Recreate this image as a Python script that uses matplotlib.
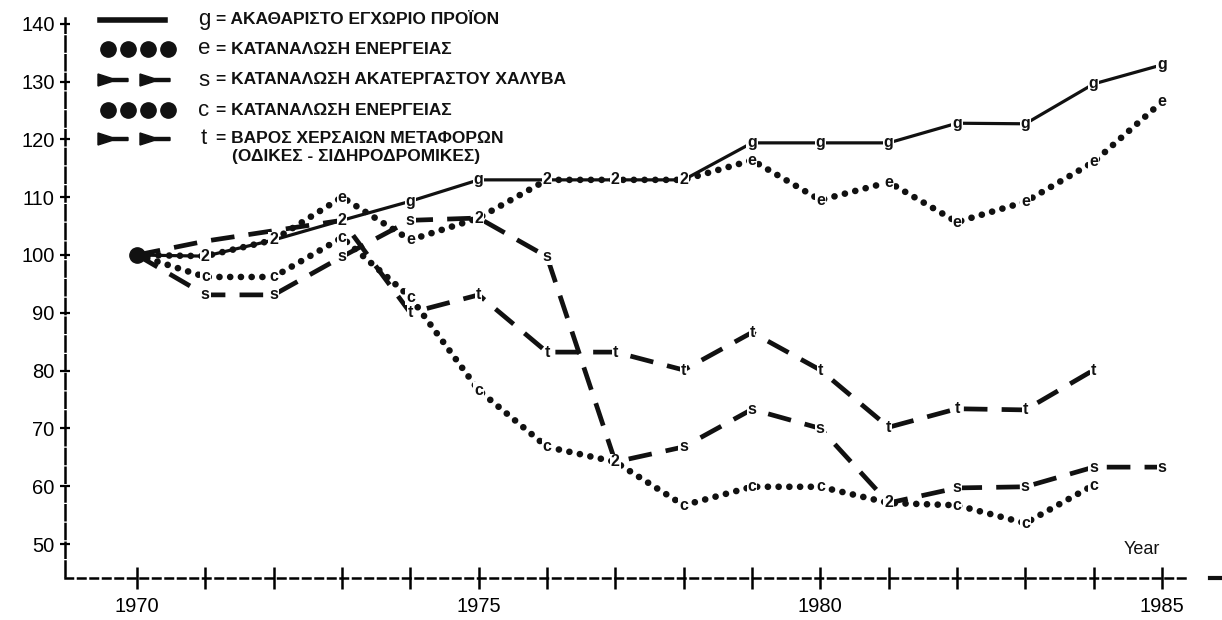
import numpy as np
import matplotlib.pyplot as plt
from matplotlib.patches import Polygon
from matplotlib.lines import Line2D

plt.rcParams['font.family'] = ['Liberation Sans', 'DejaVu Sans']

# Index values (1970 = 100)
years = np.arange(1970, 1986)
gdp = [100, 99.8, 102.6, 106, 109.3, 113, 113, 113, 113, 119.4, 119.4, 119.4, 122.8, 122.7, 129.6, 132.9]
energy_e = [100, 99.8, 102.6, 110, 102.6, 106.4, 113, 113, 113, 116.4, 109.5, 112.6, 105.7, 109.2, 116.1, 126.5]
steel = [100, 93.1, 93.1, 99.7, 106, 106.4, 99.7, 64.2, 66.8, 73.3, 70, 57.1, 59.7, 59.9, 63.3, 63.3]
energy_c = [100, 96.2, 96.2, 103, 92.7, 76.6, 66.8, 64.2, 56.7, 59.9, 59.9, 57.1, 56.7, 53.6, 60.2]
transport = [100, 102.4, 104.2, 106, 90, 93.1, 83.2, 83.2, 80.1, 86.6, 80.1, 70.2, 73.4, 73.2, 80.1]

letters = ['g', 'e', 's', 'c', 't']
series = [gdp, energy_e, steel, energy_c, transport]
# points the scan leaves without a letter
unlabelled = [('t', 1971), ('t', 1972)]
legend_text = ['= ΑΚΑΘΑΡΙΣΤΟ ΕΓΧΩΡΙΟ ΠΡΟΪΟΝ',
               '= ΚΑΤΑΝΑΛΩΣΗ ΕΝΕΡΓΕΙΑΣ',
               '= ΚΑΤΑΝΑΛΩΣΗ ΑΚΑΤΕΡΓΑΣΤΟΥ ΧΑΛΥΒΑ',
               '= ΚΑΤΑΝΑΛΩΣΗ ΕΝΕΡΓΕΙΑΣ',
               '= ΒΑΡΟΣ ΧΕΡΣΑΙΩΝ ΜΕΤΑΦΟΡΩΝ']
legend_text2 = '(ΟΔΙΚΕΣ - ΣΙΔΗΡΟΔΡΟΜΙΚΕΣ)'

W, H = 1222, 620
fig = plt.figure(figsize=(W / 100, H / 100), dpi=100)

# axes placed so that 1970 -> x=137px, 1985 -> x=1162px, 100 -> y=255px
x0, x1 = 65, 1222
y_top, y_bot = 10, 578
px_year = (1162 - 137) / 15
px_unit = 5.78
ax = fig.add_axes([x0 / W, (H - y_bot) / H, (x1 - x0) / W, (y_bot - y_top) / H])
ax.set_xlim(1970 - (137 - x0) / px_year, 1970 + (x1 - 137) / px_year)
ax.set_ylim(100 - (y_bot - 255) / px_unit, 100 + (255 - y_top) / px_unit)

ink = '#111111'
dot_style = dict(color=ink, lw=4.8, linestyle=(0, (0.01, 1.6)), dash_capstyle='round')
dash_style = dict(color=ink, lw=3.4, linestyle=(0, (5, 3)), dash_capstyle='butt')
styles = [dict(color=ink, lw=2.3, linestyle='-'), dot_style, dash_style, dot_style, dash_style]

for vals, st in zip(series, styles):
    ax.plot(years[:len(vals)], vals, zorder=2, **st)

# point labels: letter of the series, or "2" where two series meet
for i, yr in enumerate(years):
    if yr == 1970:
        continue
    pts = []
    for letter, vals in zip(letters, series):
        if i < len(vals) and (letter, yr) not in unlabelled:
            pts.append((letter, vals[i]))
    done = set()
    for j, (letter, v) in enumerate(pts):
        if j in done:
            continue
        same = [k for k, (l2, v2) in enumerate(pts) if k != j and abs(v2 - v) < 0.05]
        lab = '2' if same else letter
        done.update(same)
        ax.text(yr, v, lab, ha='center', va='center', fontsize=11.5, fontweight='bold',
                color=ink, zorder=4,
                bbox=dict(boxstyle='square,pad=0.05', fc='white', ec='none'))

ax.plot([1970], [100], 'o', color=ink, ms=11, zorder=5)

# axes in the style of the scan
for side in ['top', 'right']:
    ax.spines[side].set_visible(False)
ax.spines['left'].set_linestyle((0, (6, 1.5)))
ax.spines['left'].set_linewidth(1.8)
ax.spines['left'].set_bounds(44.5, 141)
ax.spines['bottom'].set_linestyle((0, (3, 2)))
ax.spines['bottom'].set_linewidth(1.8)
ax.spines['bottom'].set_bounds(ax.get_xlim()[0], 1985.4)

ax.set_yticks(np.arange(50, 141, 10))
ax.tick_params(axis='y', direction='inout', length=7, width=1.6, labelsize=14.5, pad=4)
ax.set_xticks([1970, 1975, 1980, 1985])
ax.set_xticks(years, minor=True)
ax.tick_params(axis='x', which='both', direction='inout', length=16, width=1.8,
               labelsize=14.5, pad=6)
ax.plot([1985.7, ax.get_xlim()[1]], [ax.get_ylim()[0]] * 2, color=ink, lw=3,
        clip_on=False, zorder=3)
ax.text(1984.7, 49, 'Year', ha='center', va='center', fontsize=13, color=ink)


def fx(px):
    return px / W


def fy(py):
    return 1 - py / H


rows = [20, 49, 80, 110, 139]
for r, (letter, txt) in enumerate(zip(letters, legend_text)):
    yc = rows[r]
    if r == 0:
        fig.add_artist(Line2D([fx(100), fx(165)], [fy(yc), fy(yc)], color=ink, lw=4))
    elif r in (1, 3):
        fig.add_artist(Line2D([fx(108), fx(128), fx(148), fx(168)], [fy(yc)] * 4,
                              color=ink, lw=0, marker='o', ms=11))
    else:
        for xs in (98, 140):
            shape = [(xs, yc - 6), (xs + 14, yc - 1.5), (xs + 30, yc - 1.5),
                     (xs + 30, yc + 1.5), (xs + 14, yc + 1.5), (xs, yc + 6)]
            fig.add_artist(Polygon([(fx(a), fy(b)) for a, b in shape],
                                   closed=True, color=ink))
    fig.text(fx(204), fy(yc), letter, ha='center', va='center', fontsize=16, color=ink)
    fig.text(fx(216), fy(yc), txt, ha='left', va='center', fontsize=12.5,
             fontweight='bold', color=ink)
fig.text(fx(232), fy(156), legend_text2, ha='left', va='center', fontsize=12.5,
         fontweight='bold', color=ink)

fig.savefig('out.png', dpi=100, facecolor='white')
